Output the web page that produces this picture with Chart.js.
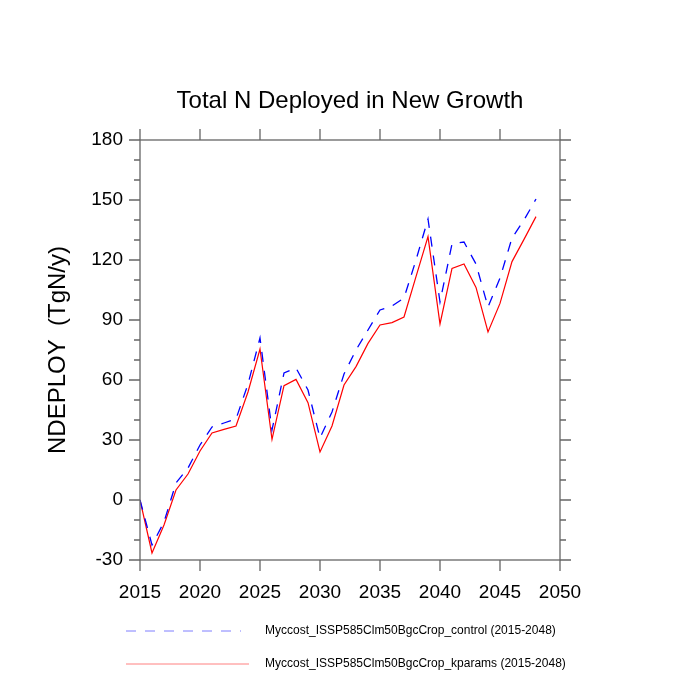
<!DOCTYPE html>
<html>
<head>
<meta charset="utf-8">
<script src="https://cdn.jsdelivr.net/npm/chart.js@4/dist/chart.umd.min.js"></script>
<style>
html,body{margin:0;padding:0;background:#fff;}
#wrap{width:700px;height:700px;}
</style>
</head>
<body>
<div id="wrap"><canvas id="c" width="700" height="700"></canvas></div>
<script>
const years = [2015,2016,2017,2018,2019,2020,2021,2022,2023,2024,2025,2026,2027,2028,2029,2030,2031,2032,2033,2034,2035,2036,2037,2038,2039,2040,2041,2042,2043,2044,2045,2046,2047,2048];
const controlValues = [0,-22.5,-11,8.5,16,27.5,36.5,38.5,40.5,58,81,35,63.5,66,55,31,44,63,75,85,95,97,101,120,140.5,99,128,129,118,96.5,111,131,140,150.5];
const kparamsValues = [0,-26.5,-12.5,5,13,24.5,33.5,35.3,37,54,75.5,30.3,57.2,60.3,48.7,24,37,57.5,66.7,78.3,87.5,88.7,91.5,111.7,131.7,88,115.8,118,106.3,84,98.3,119.2,130.3,141.7];
const seriesLabels = ["Myccost_ISSP585Clm50BgcCrop_control (2015-2048)","Myccost_ISSP585Clm50BgcCrop_kparams (2015-2048)"];
const xTickValues = [2015,2020,2025,2030,2035,2040,2045,2050];
const yTickValues = [-30,0,30,60,90,120,150,180];
const yMinorValues = [-30,-20,-10,0,10,20,30,40,50,60,70,80,90,100,110,120,130,140,150,160,170,180];

const FONT = "'Liberation Sans', Arial, Helvetica, sans-serif";

const frameTicks = {
  id: 'frameTicks',
  afterDraw(chart) {
    const ctx = chart.ctx, a = chart.chartArea;
    const xs = chart.scales.x, ys = chart.scales.y;
    ctx.save();
    ctx.strokeStyle = '#666';
    ctx.lineWidth = 1.3;
    ctx.strokeRect(a.left, a.top, a.right - a.left, a.bottom - a.top);
    ctx.beginPath();
    xTickValues.forEach(v => {
      const px = xs.getPixelForValue(v);
      ctx.moveTo(px, a.bottom); ctx.lineTo(px, a.bottom + 11);
      ctx.moveTo(px, a.top); ctx.lineTo(px, a.top - 11);
    });
    yMinorValues.forEach(v => {
      const py = ys.getPixelForValue(v);
      const len = yTickValues.includes(v) ? 11 : 6;
      ctx.moveTo(a.left, py); ctx.lineTo(a.left - len, py);
      ctx.moveTo(a.right, py); ctx.lineTo(a.right + len, py);
    });
    ctx.stroke();
    // legend
    const ds = chart.data.datasets;
    const rows = [631, 664];
    ds.forEach((d, i) => {
      const y = rows[i];
      ctx.beginPath();
      ctx.strokeStyle = d.legendColor;
      ctx.lineWidth = 1;
      ctx.setLineDash(d.borderDash || []);
      ctx.moveTo(126, y);
      ctx.lineTo(i === 0 ? 241 : 249, y);
      ctx.stroke();
      ctx.setLineDash([]);
      ctx.fillStyle = '#000';
      ctx.font = '12px ' + FONT;
      ctx.textAlign = 'left';
      ctx.textBaseline = 'middle';
      ctx.fillText(d.label, 265, y);
    });
    ctx.restore();
  }
};

new Chart(document.getElementById('c'), {
  type: 'line',
  data: {
    datasets: [
      {
        label: seriesLabels[0],
        data: years.map((x, i) => ({x: x, y: controlValues[i]})),
        borderColor: '#0000ff',
        legendColor: '#7f7fff',
        borderWidth: 1.3,
        borderDash: [10, 9],
        pointRadius: 0,
        tension: 0,
        fill: false
      },
      {
        label: seriesLabels[1],
        data: years.map((x, i) => ({x: x, y: kparamsValues[i]})),
        borderColor: '#ff0000',
        legendColor: '#ff8080',
        borderWidth: 1.2,
        pointRadius: 0,
        tension: 0,
        fill: false
      }
    ]
  },
  options: {
    responsive: false,
    animation: false,
    layout: { padding: 0 },
    plugins: {
      legend: { display: false },
      tooltip: { enabled: false },
      title: {
        display: true,
        text: 'Total N Deployed in New Growth',
        color: '#000',
        font: { family: FONT, size: 24, weight: 'normal', lineHeight: 1.2 },
        padding: { top: 86.5, bottom: 24.7 }
      }
    },
    scales: {
      x: {
        type: 'linear',
        min: 2015, max: 2050,
        afterBuildTicks(s) { s.ticks = xTickValues.map(v => ({value: v})); },
        afterFit(s) { s.height = 140; },
        grid: { display: false },
        border: { display: false },
        ticks: {
          color: '#000',
          font: { family: FONT, size: 19 },
          padding: 13,
          maxRotation: 0,
          autoSkip: false,
          callback: v => String(v)
        }
      },
      y: {
        type: 'linear',
        min: -30, max: 180,
        afterBuildTicks(s) { s.ticks = yTickValues.map(v => ({value: v})); },
        afterFit(s) { s.width = 140; },
        grid: { display: false },
        border: { display: false },
        ticks: {
          color: '#000',
          font: { family: FONT, size: 19 },
          padding: 9,
          autoSkip: false,
          callback: v => String(v)
        },
        title: {
          display: true,
          text: 'NDEPLOY  (TgN/y)',
          color: '#000',
          font: { family: FONT, size: 24, lineHeight: 1.2 },
          padding: { top: 44, bottom: 0 }
        }
      },
      yRight: {
        type: 'linear',
        position: 'right',
        min: -30, max: 180,
        afterFit(s) { s.width = 140; },
        grid: { display: false },
        border: { display: false },
        ticks: { display: false }
      }
    }
  },
  plugins: [frameTicks]
});
</script>
</body>
</html>
